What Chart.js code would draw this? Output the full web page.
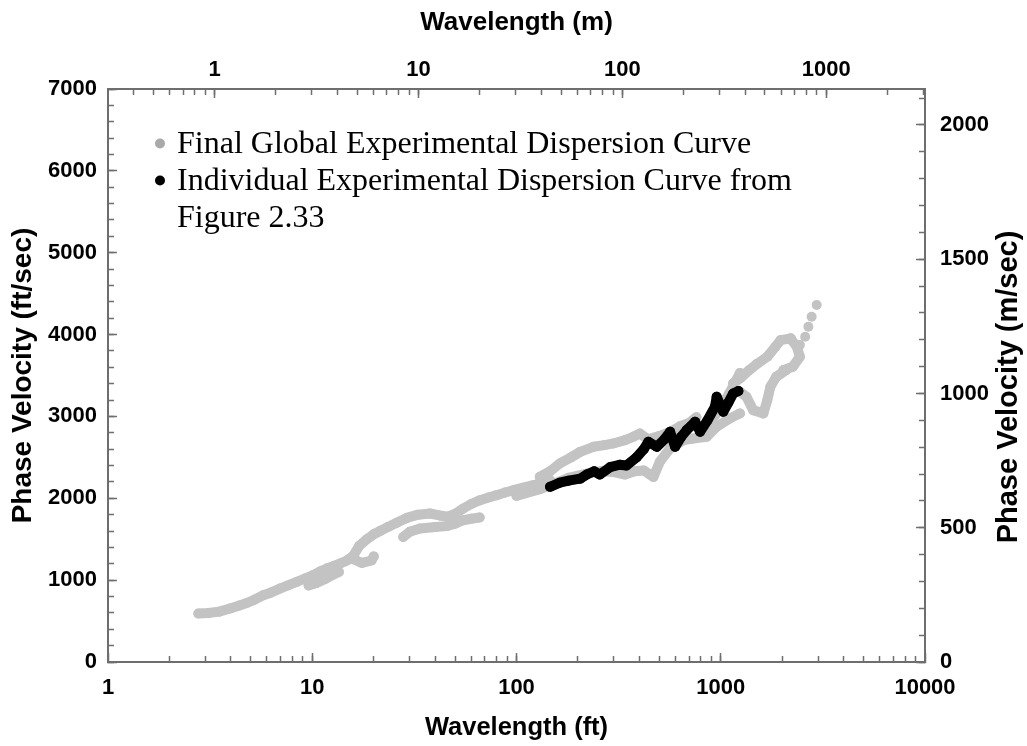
<!DOCTYPE html>
<html><head><meta charset="utf-8">
<script src="https://cdn.jsdelivr.net/npm/chart.js@4.4.1/dist/chart.umd.min.js"></script>
<style>html,body{margin:0;padding:0;background:#fff;overflow:hidden}#wrap{width:1027px;height:746px}</style>
</head><body><div id="wrap"><canvas id="c" width="1027" height="746"></canvas></div>
<script>
// ---------- tick labels ----------
const xTicksFt = [1, 10, 100, 1000, 10000];
const xTicksM = [1, 10, 100, 1000];
const yTicksFt = [0, 1000, 2000, 3000, 4000, 5000, 6000, 7000];
const yTicksMs = [0, 500, 1000, 1500, 2000];
const FT_TO_M = 0.3048;

// ---------- series names ----------
const seriesNames = ['Final Global Experimental Dispersion Curve',
                     'Individual Experimental Dispersion Curve from\nFigure 2.33'];

// ---------- data (wavelength ft, phase velocity ft/sec) ----------
const grayMain = [[2.77,592],[3.1,598],[3.5,615],[3.96,653],[4.4,690],[4.78,721],[5.2,760],[5.76,815],[6.3,850],[6.95,897],[7.6,935],[8.39,978],[9.2,1020],[10.1,1060],[11.0,1110],[11.8,1142],[12.8,1175],[13.7,1203],[14.8,1240],[15.9,1300],[17.0,1420],[18.5,1500],[20,1560],[21.5,1600],[23.5,1650],[25.9,1700],[29,1760],[33,1800],[37.7,1814],[42,1790],[46,1775],[50,1810],[54.9,1875],[60,1930],[66.3,1977],[73,2010],[80,2038],[88,2070],[96.5,2099],[108,2130],[121,2160],[133,2190],[146,2221]];
const grayLow1 = [[9.6,935],[10.5,965],[11.5,1010],[12.5,1060],[13.5,1100]];
const grayLow2 = [[15.8,1260],[17.5,1210],[19.5,1240],[20,1290]];
const grayLow3 = [[27.9,1528],[30,1590],[33.7,1631],[40,1650],[45.5,1660],[50,1690],[54.9,1732],[60,1750],[66,1765]];
const grayLow4 = [[100,2030],[130,2110],[150,2170],[180,2250],[220,2300],[260,2330],[300,2320],[340,2290],[380,2330],[420,2340],[450,2290],[468,2260],[504,2450],[565,2609],[656,2710],[734,2731],[854,2751],[955,2873],[1109,2976],[1241,3037]];
const grayUp1 = [[130,2262],[146,2330],[163,2426],[185,2500],[205,2567],[238,2629],[270,2650],[298,2670],[340,2710],[373,2751],[402,2792],[440,2720],[500,2760],[565,2812],[632,2880],[700,2920],[760,2990]];
const grayUp2 = [[792,2751],[900,2950],[1000,3100],[1100,3280],[1241,3530]];
const grayRight1 = [[1151,3404],[1250,3470],[1380,3566],[1500,3640],[1690,3729],[1850,3850],[1964,3933],[2200,3954]];
const grayRight2 = [[2026,3566],[2253,3607],[2440,3729],[2358,3851],[2200,3950]];
const grayLoop = [[1241,3300],[1336,3240],[1442,3077],[1617,3037],[1690,3200],[1750,3362],[1870,3485],[2090,3566]];
const grayDots = [[2440,3872],[2590,3973],[2685,4096],[2786,4218],[2949,4361]];
const blackSeries = [[146,2140],[163,2190],[180,2215],[205,2240],[221,2290],[240,2330],[256,2290],[287,2380],[320,2410],[345,2400],[387,2500],[420,2600],[442,2690],[486,2629],[530,2720],[565,2812],[598,2629],[640,2750],[681,2833],[749,2934],[792,2812],[860,2950],[937,3118],[955,3240],[1029,3057],[1090,3170],[1151,3281],[1220,3310]];

const GRAY = '#c3c3c3';
const AXIS = '#6e6e6e';
const toXY = a => a.map(p => ({x: p[0], y: p[1]}));

function curve(data, color, order, line = true) {
  return {
    data: toXY(data), showLine: line, borderColor: color, backgroundColor: color,
    borderWidth: 10, borderJoinStyle: 'round', borderCapStyle: 'round', tension: 0,
    pointRadius: 5, pointBorderWidth: 0, pointBackgroundColor: color, pointHoverRadius: 5,
    order: order, xAxisID: 'x', yAxisID: 'y'
  };
}

const datasets = [
  curve(blackSeries, '#000000', 0),
  curve(grayMain, GRAY, 1), curve(grayLow1, GRAY, 1), curve(grayLow2, GRAY, 1),
  curve(grayLow3, GRAY, 1), curve(grayLow4, GRAY, 1), curve(grayUp1, GRAY, 1),
  curve(grayUp2, GRAY, 1), curve(grayRight1, GRAY, 1), curve(grayRight2, GRAY, 1),
  curve(grayLoop, GRAY, 1), curve(grayDots, GRAY, 1, false)
];

const FAM = '"Liberation Sans", Arial, sans-serif';
const tickFont = {family: FAM, size: 22, weight: 'bold'};
const xTitleFont = {family: FAM, size: 25.5, weight: 'bold'};
const x2TitleFont = {family: FAM, size: 26, weight: 'bold'};
const yTitleFont = {family: FAM, size: 28, weight: 'bold'};

function minorLog(lo, hi) {
  const out = [];
  for (let d = 0.1; d <= 10000; d *= 10) for (let k = 1; k <= 9; k++) {
    const v = +(k * d).toPrecision(6);
    if (v > lo && v < hi) out.push(v);
  }
  return out;
}
function minorLin(lo, hi, step) { const o = []; for (let v = lo; v <= hi + 1e-9; v += step) o.push(v); return o; }

function setTicks(vals) { return s => { s.ticks = vals.map(v => ({value: v})); }; }
function majorAxis(o) {
  return Object.assign({
    display: true,
    grid: {drawOnChartArea: false, drawTicks: true, tickLength: -9, tickColor: AXIS, tickWidth: 1.5},
    border: {display: true, color: AXIS, width: 2},
  }, o);
}
function minorAxis(o) {
  return Object.assign({
    display: true, weight: -5,
    grid: {drawOnChartArea: false, drawTicks: true, tickLength: -6, tickColor: AXIS, tickWidth: 1.5},
    border: {display: false},
    ticks: {display: false, autoSkip: false},
    title: {display: false}
  }, o);
}

const xMin = 1, xMax = 10000, yMin = 0, yMax = 7000;

const scales = {
  x: majorAxis({type: 'logarithmic', position: 'bottom', min: xMin, max: xMax,
    afterBuildTicks: setTicks(xTicksFt), afterFit: s => { s.height = 84; },
    ticks: {autoSkip: false, maxRotation: 0, color: '#000', font: tickFont, padding: 22, callback: v => String(v)},
    title: {display: true, text: 'Wavelength (ft)', color: '#000', font: xTitleFont, padding: {top: 0, bottom: 3}}}),
  xMinor: minorAxis({type: 'logarithmic', position: 'bottom', min: xMin, max: xMax,
    afterBuildTicks: setTicks(minorLog(xMin, xMax)), afterFit: s => { s.height = 0; }}),
  x2: majorAxis({type: 'logarithmic', position: 'top', min: xMin * FT_TO_M, max: xMax * FT_TO_M,
    afterBuildTicks: setTicks(xTicksM), afterFit: s => { s.height = 89; },
    ticks: {autoSkip: false, maxRotation: 0, color: '#000', font: tickFont, padding: 15, callback: v => String(v)},
    title: {display: true, text: 'Wavelength (m)', color: '#000', font: x2TitleFont, padding: {top: 7, bottom: 0}}}),
  x2Minor: minorAxis({type: 'logarithmic', position: 'top', min: xMin * FT_TO_M, max: xMax * FT_TO_M,
    afterBuildTicks: setTicks(minorLog(xMin * FT_TO_M, xMax * FT_TO_M)), afterFit: s => { s.height = 0; }}),
  y: majorAxis({type: 'linear', position: 'left', min: yMin, max: yMax,
    afterBuildTicks: setTicks(yTicksFt), afterFit: s => { s.width = 108; },
    ticks: {autoSkip: false, color: '#000', font: tickFont, padding: 20, callback: v => String(v)},
    title: {display: true, text: 'Phase Velocity (ft/sec)', color: '#000', font: yTitleFont, padding: {top: 6, bottom: 0}}}),
  yMinor: minorAxis({type: 'linear', position: 'left', min: yMin, max: yMax,
    afterBuildTicks: setTicks(minorLin(yMin, yMax, 200)), afterFit: s => { s.width = 0; }}),
  y2: majorAxis({type: 'linear', position: 'right', min: yMin * FT_TO_M, max: yMax * FT_TO_M,
    afterBuildTicks: setTicks(yTicksMs), afterFit: s => { s.width = 102; },
    ticks: {autoSkip: false, color: '#000', font: tickFont, padding: 24, callback: v => String(v)},
    title: {display: false, text: 'Phase Velocity (m/sec)'}}),
  y2Minor: minorAxis({type: 'linear', position: 'right', min: yMin * FT_TO_M, max: yMax * FT_TO_M,
    afterBuildTicks: setTicks(minorLin(0, 2100, 100)), afterFit: s => { s.width = 0; }})
};

const overlay = {
  id: 'overlay',
  afterDraw(chart) {
    const ctx = chart.ctx;
    // right axis title (reads bottom to top)
    const y2 = chart.scales.y2;
    ctx.save();
    ctx.translate(1009, 387);
    ctx.rotate(-Math.PI / 2);
    ctx.font = 'bold 29px "Liberation Sans", Arial, sans-serif';
    ctx.fillStyle = '#000';
    ctx.textAlign = 'center';
    ctx.textBaseline = 'middle';
    ctx.fillText(y2.options.title.text, 0, 0);
    ctx.restore();
    // legend
    ctx.save();
    ctx.font = '32px "Liberation Serif", "Times New Roman", serif';
    ctx.textBaseline = 'alphabetic';
    const colors = ['#a9a9a9', '#000000'];
    let base = 153;
    seriesNames.forEach((name, i) => {
      const lines = name.split('\n');
      ctx.beginPath();
      ctx.fillStyle = colors[i];
      ctx.arc(160, base - 9.5, 5, 0, Math.PI * 2);
      ctx.fill();
      ctx.fillStyle = '#000';
      lines.forEach(l => { ctx.fillText(l, 177, base); base += 37; });
    });
    ctx.restore();
  }
};

new Chart(document.getElementById('c'), {
  type: 'scatter',
  data: {datasets},
  options: {
    responsive: false, animation: false, devicePixelRatio: 1,
    layout: {padding: 0},
    plugins: {legend: {display: false}, tooltip: {enabled: false}},
    scales
  },
  plugins: [overlay]
});
</script></body></html>
